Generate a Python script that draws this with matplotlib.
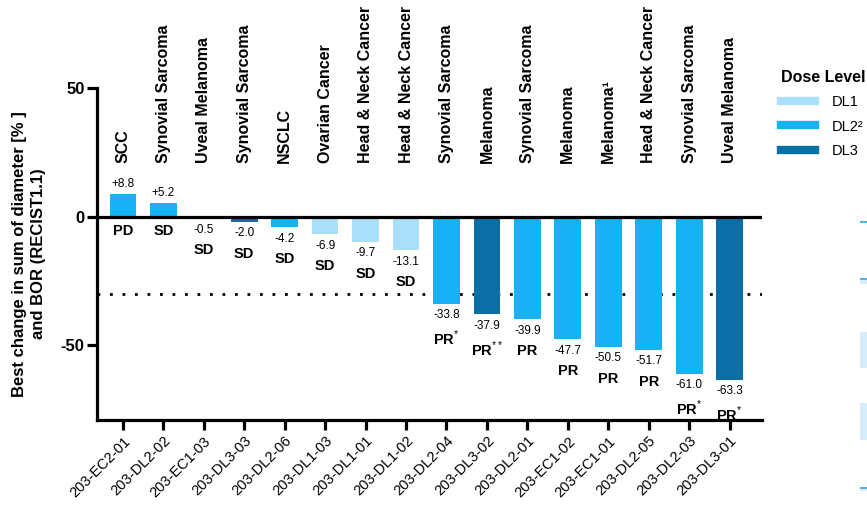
import matplotlib.pyplot as plt
from matplotlib.lines import Line2D
from matplotlib.patches import Rectangle

plt.rcParams['font.family'] = ['Liberation Sans', 'DejaVu Sans']
plt.rcParams['mathtext.fontset'] = 'custom'
plt.rcParams['mathtext.rm'] = 'Liberation Sans'
plt.rcParams['mathtext.bf'] = 'Liberation Sans:bold'

patients = ['203-EC2-01', '203-DL2-02', '203-EC1-03', '203-DL3-03', '203-DL2-06',
            '203-DL1-03', '203-DL1-01', '203-DL1-02', '203-DL2-04', '203-DL3-02',
            '203-DL2-01', '203-EC1-02', '203-EC1-01', '203-DL2-05', '203-DL2-03',
            '203-DL3-01']
change = [8.8, 5.2, -0.5, -2.0, -4.2, -6.9, -9.7, -13.1, -33.8, -37.9,
          -39.9, -47.7, -50.5, -51.7, -61.0, -63.3]
dose = ['DL2', 'DL2', 'DL2', 'DL3', 'DL2', 'DL1', 'DL1', 'DL1', 'DL2', 'DL3',
        'DL2', 'DL2', 'DL2', 'DL2', 'DL2', 'DL3']
cancer = ['SCC', 'Synovial Sarcoma', 'Uveal Melanoma', 'Synovial Sarcoma', 'NSCLC',
          'Ovarian Cancer', 'Head & Neck Cancer', 'Head & Neck Cancer',
          'Synovial Sarcoma', 'Melanoma', 'Synovial Sarcoma', 'Melanoma',
          'Melanoma\u00b9', 'Head & Neck Cancer', 'Synovial Sarcoma', 'Uveal Melanoma']
response = ['PD', 'SD', 'SD', 'SD', 'SD', 'SD', 'SD', 'SD', 'PR$^{*}$', 'PR$^{**}$',
            'PR', 'PR', 'PR', 'PR', 'PR$^{*}$', 'PR$^{*}$']
pr_threshold = -30

colors = {'DL1': '#a9dff8', 'DL2': '#17b2f6', 'DL3': '#0b6ea5'}

W, H = 867, 520
fig = plt.figure(figsize=(W / 100, H / 100), dpi=100)
ax = fig.add_axes([97 / W, 100 / H, (762 - 97) / W, (420 - 88) / H])

x = list(range(len(patients)))
ax.bar(x, change, width=0.66, color=[colors[d] for d in dose], zorder=2)
ax.axhline(0, color='black', lw=2.3, zorder=3)
ax.axhline(pr_threshold, color='black', lw=2, linestyle=(0, (1, 3.5)), zorder=1)

for i, v in enumerate(change):
    if v > 0:
        ax.annotate('+%.1f' % v, (i, v), xytext=(0, 3), textcoords='offset points',
                    ha='center', va='bottom', fontsize=8.5)
        ax.annotate(response[i], (i, 0), xytext=(0, -5), textcoords='offset points',
                    ha='center', va='top', fontsize=10.5, fontweight='bold')
    else:
        ax.annotate('%.1f' % v, (i, v), xytext=(0, -4), textcoords='offset points',
                    ha='center', va='top', fontsize=8.5)
        ax.annotate(response[i], (i, v), xytext=(0, -18), textcoords='offset points',
                    ha='center', va='top', fontsize=10.5, fontweight='bold')
    ax.text(i, 21, cancer[i], rotation=90, ha='center', va='bottom',
            fontsize=11.5, fontweight='bold', clip_on=False)

ax.set_xlim(-0.64, 15.8)
ax.set_ylim(-79, 50)
ax.set_yticks([50, 0, -50])
ax.set_yticklabels(['50', '0', '-50'], fontsize=12, fontweight='bold')
ax.set_xticks(x)
ax.set_xticklabels(patients, rotation=45, ha='right', rotation_mode='anchor', fontsize=10.5)
ax.tick_params(axis='both', width=2.3, length=7, direction='out')
ax.tick_params(axis='y', pad=2)
ax.tick_params(axis='x', pad=3)

for s in ['top', 'right']:
    ax.spines[s].set_visible(False)
for s in ['left', 'bottom']:
    ax.spines[s].set_linewidth(2.3)

ax.set_ylabel('Best change in sum of diameter [% ]\nand BOR (RECIST1.1)',
              fontsize=12, fontweight='bold', linespacing=1.3)
ax.yaxis.set_label_coords(-0.077, 0.5)

handles = [Line2D([0], [0], color=colors[k], lw=6) for k in ['DL1', 'DL2', 'DL3']]
leg = fig.legend(handles, ['DL1', 'DL2\u00b2', 'DL3'], loc='upper left',
                 bbox_to_anchor=(768 / W, 1 - 57 / H), frameon=False,
                 title='Dose Level', alignment='left', fontsize=10.5,
                 handlelength=2.3, handletextpad=1.2, labelspacing=0.7,
                 title_fontproperties={'weight': 'bold', 'size': 11.5})

# slivers of a neighbouring panel cut off at the right edge
for y0, y1 in [(278, 284), (332, 368), (403, 440), (487, 491)]:
    fig.patches.append(Rectangle((860 / W, 1 - y1 / H), 7 / W, (y1 - y0) / H,
                                 transform=fig.transFigure, color='#d6edfb', lw=0))
for y0 in [221, 278, 487]:
    fig.patches.append(Rectangle((860 / W, 1 - (y0 + 2) / H), 7 / W, 2 / H,
                                 transform=fig.transFigure, color='#4fb3e8', lw=0))

fig.savefig('out.png', dpi=100)
